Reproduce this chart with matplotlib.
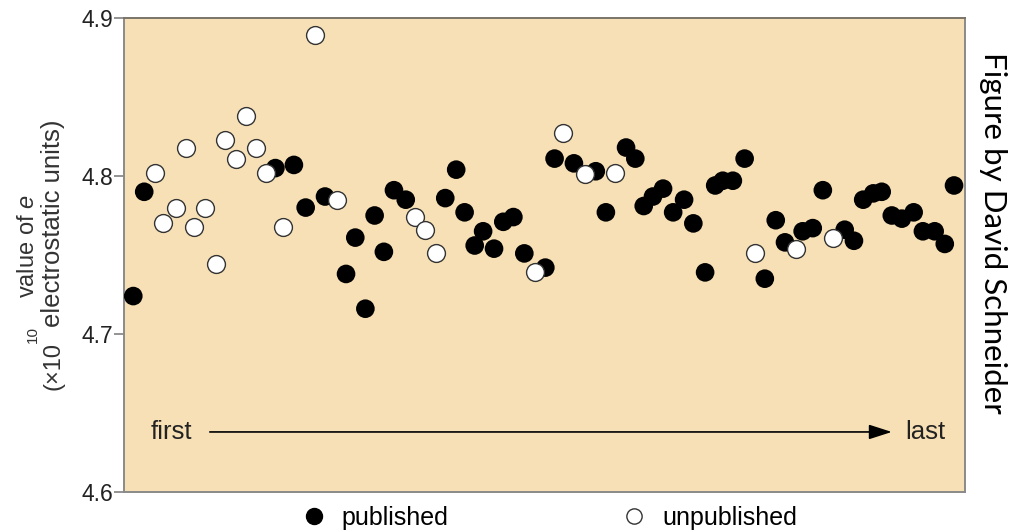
import matplotlib
matplotlib.use('Agg')
import matplotlib.pyplot as plt
from matplotlib.lines import Line2D

plt.rcParams['font.family'] = ['Liberation Sans', 'DejaVu Sans']
plt.rcParams['mathtext.fontset'] = 'custom'
plt.rcParams['mathtext.it'] = 'Liberation Sans:italic'
plt.rcParams['mathtext.rm'] = 'Liberation Sans'

# measurement order (0 = first, 100 = last) and value of e (x 10^10 esu)
pub_x = [1.1, 2.4, 18.0, 20.2, 21.6, 23.9, 26.4, 27.5, 28.7, 29.8, 30.9, 32.1,
         33.5, 38.2, 39.5, 40.5, 41.7, 42.7, 44.0, 45.1, 46.3, 47.6, 50.1,
         51.2, 53.5, 56.1, 57.3, 59.7, 60.8, 61.8, 62.9, 64.1, 65.3, 66.6,
         67.7, 69.1, 70.3, 71.2, 72.4, 73.8, 76.2, 77.5, 78.6, 80.7, 81.9,
         83.1, 85.7, 86.8, 87.9, 89.1, 90.1, 91.3, 92.5, 93.9, 95.0, 96.4,
         97.6, 98.7]
pub_e = [4.724, 4.790, 4.805, 4.807, 4.780, 4.787, 4.738, 4.761, 4.716, 4.775,
         4.752, 4.791, 4.785, 4.786, 4.804, 4.777, 4.756, 4.765, 4.754, 4.771,
         4.774, 4.751, 4.742, 4.811, 4.808, 4.803, 4.777, 4.818, 4.811, 4.781,
         4.787, 4.792, 4.777, 4.785, 4.770, 4.739, 4.794, 4.797, 4.797, 4.811,
         4.735, 4.772, 4.758, 4.765, 4.767, 4.791, 4.766, 4.759, 4.785, 4.789,
         4.790, 4.775, 4.773, 4.777, 4.765, 4.765, 4.757, 4.794]

unpub_x = [3.7, 4.6, 6.2, 7.4, 8.3, 9.6, 10.9, 12.0, 13.3, 14.5, 15.7, 16.9,
           18.9, 22.7, 25.3, 34.6, 35.8, 37.1, 48.9, 52.2, 54.8, 58.4, 75.0,
           79.9, 84.3]
unpub_e = [4.802, 4.770, 4.780, 4.818, 4.768, 4.780, 4.744, 4.823, 4.811,
           4.838, 4.818, 4.802, 4.768, 4.889, 4.785, 4.774, 4.766, 4.751,
           4.739, 4.827, 4.801, 4.802, 4.751, 4.754, 4.761]

y_ticks = [4.6, 4.7, 4.8, 4.9]

fig = plt.figure(figsize=(10.1, 5.32), dpi=100)
ax = fig.add_axes([0.1228, 0.0752, 0.8326, 0.891])
ax.set_facecolor('#F7E0B5')

ax.scatter(pub_x, pub_e, s=180, color='black', edgecolors='none', zorder=3)
ax.scatter(unpub_x, unpub_e, s=165, color='white', edgecolors='#333333',
           linewidths=1.0, zorder=4)

ax.set_xlim(0, 100)
ax.set_ylim(4.6, 4.9)
ax.set_yticks(y_ticks)
ax.set_yticklabels(['%.1f' % t for t in y_ticks])
ax.set_xticks([])
ax.tick_params(axis='y', direction='out', length=7, width=1.2, color='#808080',
               labelsize=16.5, labelcolor='#222222', pad=1)
for sp in ax.spines.values():
    sp.set_color('#8a8a8a')
    sp.set_linewidth(1.4)
ax.spines['top'].set_color('#7a7468')

# first -> last arrow
ax.annotate('', xy=(91.3, 4.638), xytext=(10.2, 4.638),
            arrowprops=dict(arrowstyle='-|>,head_length=1.4,head_width=0.45',
                            color='black', lw=1.2, shrinkA=0, shrinkB=0))
ax.text(8.1, 4.638, 'first', ha='right', va='center', fontsize=18.5,
        color='#222222')
ax.text(92.9, 4.638, 'last', ha='left', va='center', fontsize=18.5,
        color='#222222')

# y label, built from pieces like the original
W, H = 1010.0, 532.0
def ftext(px, py, s, size):
    fig.text(px / W, 1 - py / H, s, rotation=90, rotation_mode='anchor',
             ha='left', va='center', fontsize=size, color='#333333')

ftext(53, 390, '(\u00d710', 17)
ftext(33, 343, '10', 11)
ftext(53, 327, 'electrostatic units)', 18.5)
ftext(28, 298, 'value of $e$', 17)

# legend
handles = [Line2D([], [], marker='o', ls='none', color='black', ms=11.5,
                  markeredgecolor='black'),
           Line2D([], [], marker='o', ls='none', color='white', ms=11,
                  markeredgecolor='#333333', markeredgewidth=1.0)]
fig.legend(handles, ['published', 'unpublished'], loc='center',
           bbox_to_anchor=(549 / W, 1 - 518 / H), ncol=2, frameon=False,
           fontsize=18, handlelength=1.0, handletextpad=0.6,
           columnspacing=6.95)

fig.text(993 / W, 1 - 233 / H, 'Figure by David Schneider', rotation=-90,
         ha='center', va='center', fontsize=22.5, family=['Lato', 'DejaVu Sans'],
         color='black')

fig.savefig('out.png', dpi=100, facecolor='white')
